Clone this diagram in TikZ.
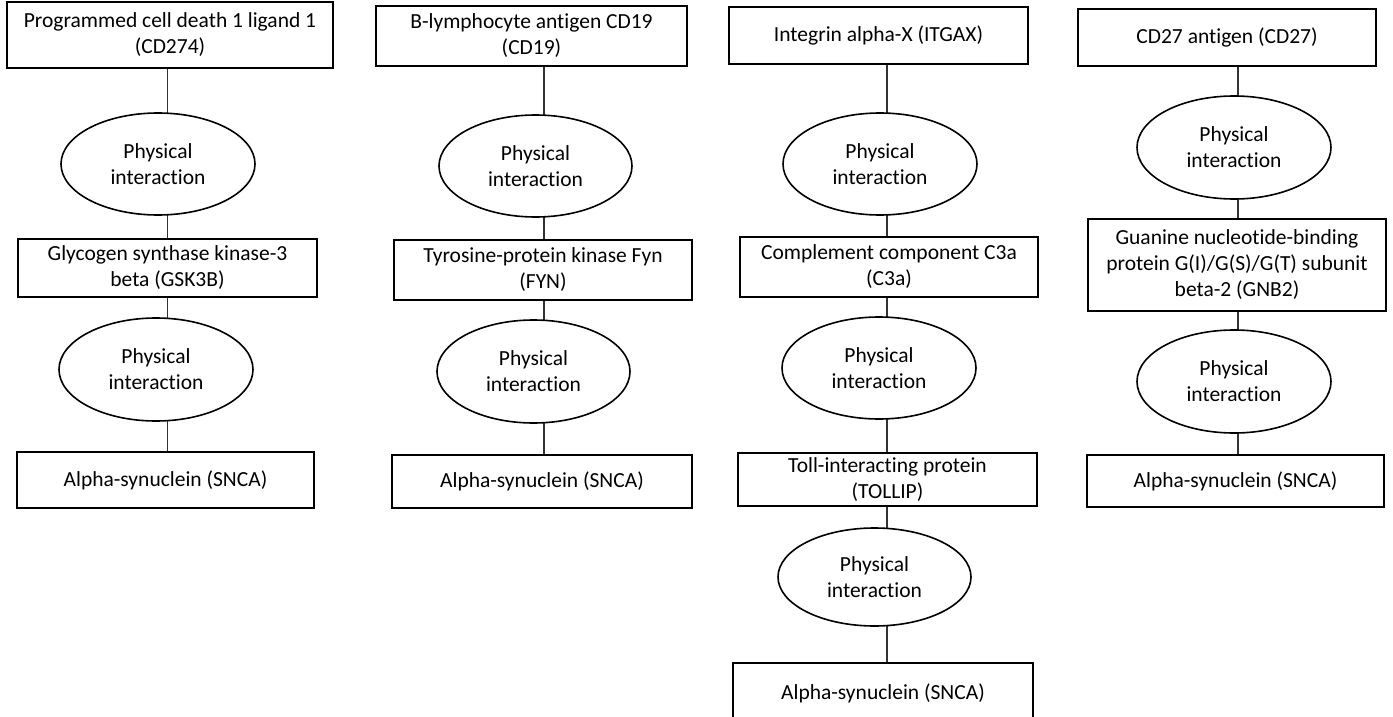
\documentclass[tikz,border=0pt]{standalone}
\usepackage{fontspec}
\setmainfont{Carlito}[Ligatures={NoCommon}]
\usetikzlibrary{shapes.geometric,backgrounds}
\tikzset{
  box/.style={draw=black, line width=1.6pt, fill=white, rectangle, inner sep=0pt, outer sep=0pt, align=center, font=\fontsize{21.5}{26}\selectfont},
  oval/.style={draw=black, line width=1.6pt, fill=white, ellipse, inner sep=0pt, outer sep=0pt, align=center, minimum width=194pt, minimum height=102pt, font=\fontsize{21.5}{26}\selectfont},
  link/.style={draw=black!80, line width=1.1pt}
}
\begin{document}
\begin{tikzpicture}[x=1pt,y=-1pt]
\useasboundingbox (0,0) rectangle (1393,717);
% Column 1
\node[box, minimum width=326pt, minimum height=66pt] (a1) at (170,35) {Programmed cell death 1 ligand 1\\(CD274)};
\node[oval] (ae1) at (158,164) {Physical\\interaction};
\node[box, minimum width=299pt, minimum height=58pt] (a2) at (167.5,268) {Glycogen synthase kinase-3\\beta (GSK3B)};
\node[oval, minimum height=103pt] (ae2) at (156,369.5) {Physical\\interaction};
\node[box, minimum width=297pt, minimum height=56pt] (a3) at (165.5,480) {Alpha-synuclein (SNCA)};
\coordinate (ax) at (167.5,0);
% Column 2
\node[box, minimum width=311pt, minimum height=60pt] (b1) at (531.5,36) {B-lymphocyte antigen CD19\\(CD19)};
\node[oval, minimum width=193pt] (be1) at (535.5,166) {Physical\\interaction};
\node[box, minimum width=298pt, minimum height=60pt] (b2) at (543,270) {Tyrosine-protein kinase Fyn\\(FYN)};
\node[oval, minimum width=193pt, minimum height=103pt] (be2) at (533.5,371.5) {Physical\\interaction};
\node[box, minimum width=300pt, minimum height=53pt] (b3) at (542,481.5) {Alpha-synuclein (SNCA)};
\coordinate (bx) at (544,0);
% Column 3
\node[box, minimum width=299pt, minimum height=57pt] (c1) at (878.5,35.5) {Integrin alpha-X (ITGAX)};
\node[oval] (ce1) at (880,164) {Physical\\interaction};
\node[box, minimum width=298pt, minimum height=60pt] (c2) at (889,267) {Complement component C3a\\(C3a)};
\node[oval] (ce2) at (879,368) {Physical\\interaction};
\node[box, minimum width=299pt, minimum height=53pt] (c3) at (887.5,479.5) {Toll-interacting protein\\(TOLLIP)};
\node[oval, minimum width=193pt, minimum height=98pt] (ce3) at (874.5,577) {Physical\\interaction};
\node[box, minimum width=300pt, minimum height=60pt] (c4) at (883,693) {Alpha-synuclein (SNCA)};
\coordinate (cx) at (887,0);
% Column 4
\node[box, minimum width=298pt, minimum height=57pt] (d1) at (1227,37.5) {CD27 antigen (CD27)};
\node[oval, minimum height=103pt] (de1) at (1234,147.5) {Physical\\interaction};
\node[box, minimum width=298pt, minimum height=92pt] (d2) at (1237,265) {Guanine nucleotide-binding\\protein G(I)/G(S)/G(T) subunit\\beta-2 (GNB2)};
\node[oval, minimum height=103pt] (de2) at (1234,381.5) {Physical\\interaction};
\node[box, minimum width=297pt, minimum height=52pt] (d3) at (1235.5,481) {Alpha-synuclein (SNCA)};
\coordinate (dx) at (1238,0);
\begin{pgfonlayer}{background}
\draw[link] (a1.south -| ax) -- (ae1.north -| ax);
\draw[link] (ae1.south -| ax) -- (a2.north -| ax);
\draw[link] (a2.south -| ax) -- (ae2.north -| ax);
\draw[link] (ae2.south -| ax) -- (a3.north -| ax);
\draw[link] (b1.south -| bx) -- (be1.north -| bx);
\draw[link] (be1.south -| bx) -- (b2.north -| bx);
\draw[link] (b2.south -| bx) -- (be2.north -| bx);
\draw[link] (be2.south -| bx) -- (b3.north -| bx);
\draw[link] (c1.south -| cx) -- (ce1.north -| cx);
\draw[link] (ce1.south -| cx) -- (c2.north -| cx);
\draw[link] (c2.south -| cx) -- (ce2.north -| cx);
\draw[link] (ce2.south -| cx) -- (c3.north -| cx);
\draw[link] (c3.south -| cx) -- (ce3.north -| cx);
\draw[link] (ce3.south -| cx) -- (c4.north -| cx);
\draw[link] (d1.south -| dx) -- (de1.north -| dx);
\draw[link] (de1.south -| dx) -- (d2.north -| dx);
\draw[link] (d2.south -| dx) -- (de2.north -| dx);
\draw[link] (de2.south -| dx) -- (d3.north -| dx);
\end{pgfonlayer}
\end{tikzpicture}
\end{document}
